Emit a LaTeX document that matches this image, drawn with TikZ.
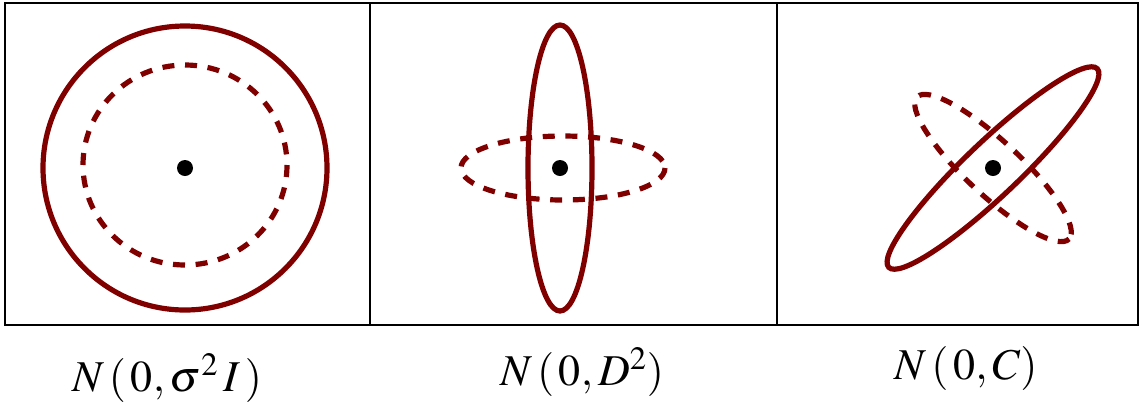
\documentclass[tikz,border=0pt]{standalone}
\usepackage{amsmath}
\usepackage{mathptmx}
\usepackage{tikz}
\definecolor{edark}{HTML}{800000}

\begin{document}
\begin{tikzpicture}[
  x=0.75pt,y=-0.75pt,
  frame/.style={draw=black,line width=1.2pt},
  cov/.style={draw=edark,line width=3.9pt},
  covd/.style={cov,dash pattern=on 9pt off 8pt},
  ctr/.style={circle,fill=black,inner sep=0pt,minimum size=12pt},
  lbl/.style={font=\fontsize{33}{38}\selectfont}
]
\useasboundingbox (0,0) rectangle (1142,405);
% panels
\draw[frame] (5,3) rectangle (1138,325);
\draw[frame] (370,3) -- (370,325);
\draw[frame] (777,3) -- (777,325);

% isotropic
\node[ctr] (c1) at (185,168) {};
\draw[cov] (c1.center) circle[radius=142];
\draw[covd] (c1.center) ++(0,-3) circle[x radius=102,y radius=100];

% axis-parallel
\node[ctr] (c2) at (560,168) {};
\draw[cov] (c2.center) circle[x radius=32,y radius=143];
\draw[covd] (c2.center) ++(3,0) circle[x radius=102,y radius=32];

% full covariance
\node[ctr] (c3) at (993,168) {};
\draw[cov,rotate around={43.6:(c3.center)}] (c3.center) circle[x radius=144,y radius=27];
\draw[covd,rotate around={-43:(c3.center)}] (c3.center) circle[x radius=104,y radius=27];

% labels
\node[lbl] (l1) at (167,378) {$N\,(\,0,\sigma^{2}\,I\,)$};
\node[lbl] (l2) at (582,372) {$N\,(\,0,D^2)$};
\node[lbl] (l3) at (966,368) {$N\,(\,0,C)$};
\end{tikzpicture}
\end{document}
